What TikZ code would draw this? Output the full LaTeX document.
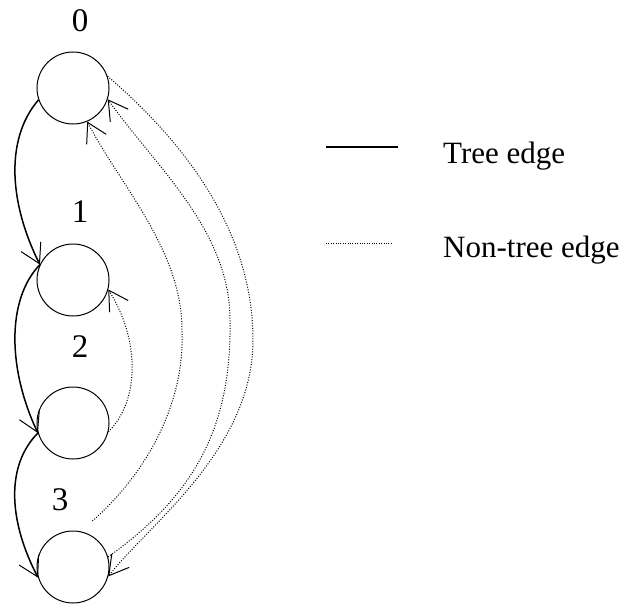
\documentclass[tikz,border=0pt]{standalone}
\usepackage{fontspec}
\setmainfont{Liberation Serif}
\usetikzlibrary{arrows.meta}
\begin{document}
\begin{tikzpicture}[x=1pt,y=-1pt,
  vertex/.style={circle,draw,line width=1pt,minimum size=72pt,inner sep=0pt},
  vlabel/.style={font=\fontsize{33}{33}\selectfont,anchor=base,inner sep=0pt},
  legtext/.style={font=\fontsize{31}{31}\selectfont,anchor=base west,inner sep=0pt},
  barb/.style={-{Straight Barb[length=19pt,width=22pt,line width=1pt]}},
  treeedge/.style={line width=1.5pt,barb},
  backedge/.style={line width=1pt,dash pattern=on 1pt off 1.6pt,barb},
]
\useasboundingbox (0,0) rectangle (627,605);

% vertices
\node[vertex] (n0) at (73,88) {};
\node[vertex] (n1) at (73,280) {};
\node[vertex] (n2) at (73,423) {};
\node[vertex] (n3) at (73,567) {};

% vertex numbers
\node[vlabel] (l0) at (80,31) {0};
\node[vlabel] (l1) at (80,222) {1};
\node[vlabel] (l2) at (80,357) {2};
\node[vlabel] (l3) at (60,510) {3};

% tree edges
\draw[treeedge] (n0.199) .. controls (4,140) and (10,205) .. (n1.155);
\draw[treeedge] (n1.155) .. controls (6,300) and (8,370) .. (n2.196);
\draw[treeedge] (n2.196) .. controls (6,465) and (8,520) .. (n3.197);

% non-tree edges
\draw[backedge] (n2.346) .. controls (140,400) and (140,340) .. (n1.345);
\draw[backedge] ([yshift=15pt]n3.58) .. controls (150,470) and (185,400) .. (182,330)
  .. controls (182,250) and (120,185) .. (n0.293);
\draw[backedge] (n3.16) .. controls (192,497) and (232,430) .. (230,320)
  .. controls (230,230) and (155,166) .. (n0.342);
\draw[backedge] (n0.19) .. controls (170,130) and (253,220) .. (253,340)
  .. controls (253,450) and (148,525) .. (n3.345);

% legend
\coordinate (ta) at (326,147);
\coordinate (tb) at (398,147);
\coordinate (na) at (326,243);
\coordinate (nb) at (392,243);
\draw[line width=1.5pt] (ta) -- (tb);
\draw[line width=0.9pt,dash pattern=on 0.9pt off 1.5pt] (na) -- (nb);
\node[legtext] (tt) at (443,163) {Tree edge};
\node[legtext] (nt) at (443,257) {Non-tree edge};
\end{tikzpicture}
\end{document}
